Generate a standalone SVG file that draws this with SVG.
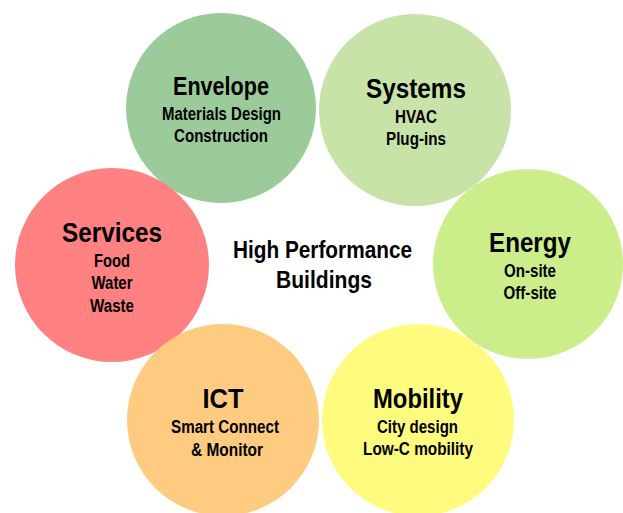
<svg xmlns="http://www.w3.org/2000/svg" width="623" height="513" viewBox="0 0 623 513">
<style>
text{font-family:"Liberation Sans",Arial,sans-serif;font-weight:bold;fill:#000;text-anchor:middle}
.t{font-size:28px}
.s{font-size:18px}
.c{font-size:24px}
</style>
<rect width="623" height="513" fill="#fff"/>
<g id="envelope">
<circle cx="221" cy="108" r="95" fill="#9BCB9A"/>
<text class="t" x="221" y="95" style="font-size:25px" textLength="96" lengthAdjust="spacingAndGlyphs">Envelope</text>
<text class="s" x="221.5" y="120" textLength="119" lengthAdjust="spacingAndGlyphs">Materials Design</text>
<text class="s" x="221" y="142" textLength="94" lengthAdjust="spacingAndGlyphs">Construction</text>
</g>
<g id="systems">
<circle cx="415" cy="110" r="96" fill="#C8E3A8"/>
<text class="t" x="416" y="98" textLength="100" lengthAdjust="spacingAndGlyphs">Systems</text>
<text class="s" x="416" y="123" textLength="42" lengthAdjust="spacingAndGlyphs">HVAC</text>
<text class="s" x="416" y="145" textLength="60" lengthAdjust="spacingAndGlyphs">Plug-ins</text>
</g>
<g id="services">
<circle cx="112" cy="265" r="97" fill="#FF8181"/>
<text class="t" x="112" y="242" textLength="100" lengthAdjust="spacingAndGlyphs">Services</text>
<text class="s" x="112" y="267" textLength="36" lengthAdjust="spacingAndGlyphs">Food</text>
<text class="s" x="112" y="289" textLength="41" lengthAdjust="spacingAndGlyphs">Water</text>
<text class="s" x="112" y="312" textLength="44" lengthAdjust="spacingAndGlyphs">Waste</text>
</g>
<g id="energy">
<circle cx="528" cy="264" r="95" fill="#CCEE8A"/>
<text class="t" x="530" y="252" textLength="82" lengthAdjust="spacingAndGlyphs">Energy</text>
<text class="s" x="530" y="277" textLength="52" lengthAdjust="spacingAndGlyphs">On-site</text>
<text class="s" x="530" y="299" textLength="53" lengthAdjust="spacingAndGlyphs">Off-site</text>
</g>
<g id="ict">
<circle cx="223" cy="420" r="96" fill="#FFCB80"/>
<text class="t" x="223" y="408" textLength="41" lengthAdjust="spacingAndGlyphs">ICT</text>
<text class="s" x="225" y="433" textLength="108" lengthAdjust="spacingAndGlyphs">Smart Connect</text>
<text class="s" x="227" y="456" textLength="72" lengthAdjust="spacingAndGlyphs">&amp; Monitor</text>
</g>
<g id="mobility">
<circle cx="418" cy="420" r="96" fill="#FFFB7F"/>
<text class="t" x="418" y="408" textLength="90" lengthAdjust="spacingAndGlyphs">Mobility</text>
<text class="s" x="417.5" y="433" textLength="81" lengthAdjust="spacingAndGlyphs">City design</text>
<text class="s" x="418" y="455" textLength="110" lengthAdjust="spacingAndGlyphs">Low-C mobility</text>
</g>
<g id="center">
<text class="c" x="322.5" y="258" textLength="179" lengthAdjust="spacingAndGlyphs">High Performance</text>
<text class="c" x="324" y="288" textLength="96" lengthAdjust="spacingAndGlyphs">Buildings</text>
</g>
<g id="connectors"/>
</svg>
